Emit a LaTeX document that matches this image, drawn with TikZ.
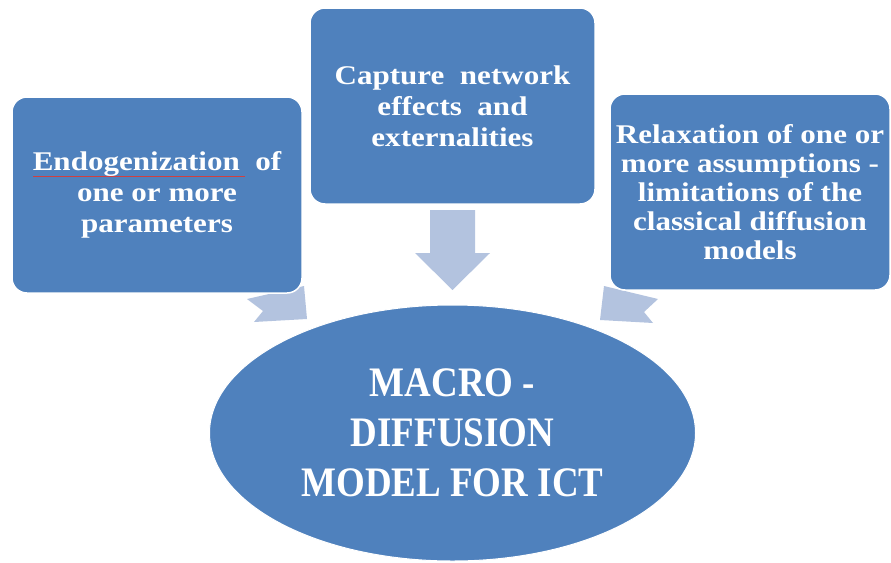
\documentclass[tikz,border=0pt]{standalone}
\usepackage{fontspec}
\setmainfont[FakeStretch=1.15]{Liberation Serif}
\newfontfamily\capsfont[FakeStretch=0.88]{Liberation Serif}
\usetikzlibrary{shapes.geometric}
\definecolor{boxblue}{HTML}{4F81BD}
\definecolor{arrowblue}{HTML}{B3C3DF}
\definecolor{squig}{HTML}{D04040}
\tikzset{
  topbox/.style={draw=white, line width=1.5pt, fill=boxblue, rounded corners=15pt,
    minimum height=196pt, inner sep=0pt, text=white, align=center,
    font=\fontsize{27}{31}\selectfont\bfseries},
  blockarrow/.style={fill=arrowblue, draw=none},
  centreoval/.style={ellipse, fill=boxblue, draw=white, line width=1pt,
    minimum width=486pt, minimum height=256pt, inner sep=0pt, text=white, align=center,
    font=\capsfont\fontsize{42}{50}\selectfont\bfseries}
}
\begin{document}
\begin{tikzpicture}[x=1pt,y=-1pt]
\useasboundingbox (0,0) rectangle (891,562);
% arrows (behind the boxes)
\fill[blockarrow] (247,299) -- (263,311) -- (254,322) -- (307,319) -- (304,286) -- cycle;
\fill[blockarrow] (658,299) -- (644,312) -- (653,323) -- (600,320) -- (604,286) -- cycle;
\fill[blockarrow] (430,210) -- (475,210) -- (475,253) -- (490,253) -- (452.5,290) -- (415,253) -- (430,253) -- cycle;
% boxes
\node[topbox, minimum width=290pt] (left) at (157,195)
  {Endogenization\ \ of\\one or more\\parameters};
\node[topbox, minimum width=285pt] (mid) at (452.5,106)
  {Capture\ \ network\\effects\ \ and\\externalities};
\node[topbox, minimum width=280pt, font=\fontsize{27}{29}\selectfont\bfseries] (right) at (750,192)
  {Relaxation of one or\\more assumptions -\\limitations of the\\classical diffusion\\models};
\node[centreoval] (oval) at (452.5,433) {MACRO -\\DIFFUSION\\MODEL FOR ICT};
\draw[squig, line width=0.7pt] (33,176) -- (245,176);
\end{tikzpicture}
\end{document}
